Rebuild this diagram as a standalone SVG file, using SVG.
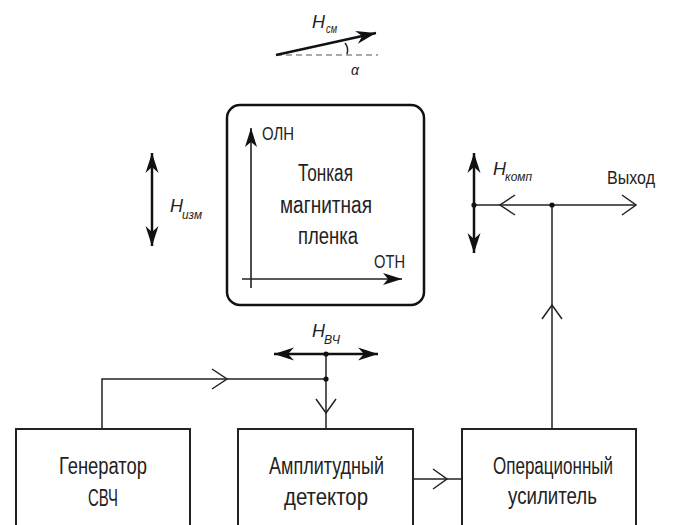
<svg xmlns="http://www.w3.org/2000/svg" width="673" height="525" viewBox="0 0 673 525">
<defs>
<style>
text{font-family:"Liberation Sans","DejaVu Sans",sans-serif;fill:#222}
.t{font-size:23.5px}
.l{font-size:19px}
.h{font-size:19px;font-style:italic}
.s{font-size:12.5px;font-style:italic}
.box{fill:#fff;stroke:#222;stroke-width:2}
.ln{fill:none;stroke:#222;stroke-width:1.5}
.th{fill:none;stroke:#111;stroke-width:2.5}
.ax{fill:none;stroke:#222;stroke-width:1.6}
.dot{fill:#111}
</style>
<marker id="fa" viewBox="-21 -8 22 16" refX="0" refY="0" markerWidth="22" markerHeight="16" markerUnits="userSpaceOnUse" orient="auto-start-reverse" overflow="visible">
<path d="M0,0 L-20,-6.5 L-14,0 L-20,6.5 Z" fill="#111"/>
</marker>
<marker id="fb" viewBox="-21 -8 22 16" refX="0" refY="0" markerWidth="22" markerHeight="16" markerUnits="userSpaceOnUse" orient="auto-start-reverse" overflow="visible">
<path d="M0,0 L-19,-6 L-14,0 L-19,6 Z" fill="#111"/>
</marker>
</defs>
<rect width="673" height="525" fill="#fff"/>

<g id="bias-field">
<line x1="276" y1="55" x2="378" y2="55" stroke="#555" stroke-width="1.2" stroke-dasharray="6,4"/>
<line x1="276" y1="55" x2="376" y2="33" class="th" marker-end="url(#fa)"/>
<path d="M345,43 Q349,48 347,54" class="ln" stroke-width="1.2"/>
<text class="h" x="312" y="28" textLength="13" lengthAdjust="spacingAndGlyphs">H</text>
<text class="s" x="326" y="33" textLength="11" lengthAdjust="spacingAndGlyphs">см</text>
<text x="351" y="75" font-size="14" font-style="italic">α</text>
</g>

<g id="film">
<rect x="227" y="105" width="197" height="200" rx="13" fill="#fff" stroke="#111" stroke-width="2.5"/>
<line x1="251" y1="288" x2="251" y2="128" class="ax" marker-end="url(#fb)"/>
<line x1="242" y1="279" x2="402" y2="279" class="ax" marker-end="url(#fb)"/>
<text class="l" x="262" y="140" textLength="32" lengthAdjust="spacingAndGlyphs">ОЛН</text>
<text class="l" x="374" y="268" textLength="31" lengthAdjust="spacingAndGlyphs">ОТН</text>
<text class="t" x="298" y="181" textLength="55" lengthAdjust="spacingAndGlyphs">Тонкая</text>
<text class="t" x="280" y="213" textLength="92" lengthAdjust="spacingAndGlyphs">магнитная</text>
<text class="t" x="298" y="244" textLength="60" lengthAdjust="spacingAndGlyphs">пленка</text>
</g>

<g id="h-izm">
<line x1="152" y1="153" x2="152" y2="246" class="th" marker-start="url(#fa)" marker-end="url(#fa)"/>
<text class="h" x="170" y="212" textLength="13" lengthAdjust="spacingAndGlyphs">H</text>
<text class="s" x="182" y="219" textLength="20" lengthAdjust="spacingAndGlyphs">изм</text>
</g>

<g id="h-komp">
<line x1="474" y1="153" x2="474" y2="253" class="th" marker-start="url(#fa)" marker-end="url(#fa)"/>
<text class="h" x="493" y="175" textLength="13" lengthAdjust="spacingAndGlyphs">H</text>
<text class="s" x="505" y="181" textLength="27" lengthAdjust="spacingAndGlyphs">комп</text>
</g>

<g id="h-vch">
<line x1="274" y1="354" x2="378" y2="354" class="th" marker-start="url(#fa)" marker-end="url(#fa)"/>
<text class="h" x="312" y="337" textLength="13" lengthAdjust="spacingAndGlyphs">H</text>
<text class="s" x="324" y="344" textLength="16" lengthAdjust="spacingAndGlyphs">ВЧ</text>
</g>

<g id="output">
<text class="l" x="607" y="184" textLength="48" lengthAdjust="spacingAndGlyphs">Выход</text>
</g>

<g id="generator">
<rect x="16" y="429" width="174" height="110" class="box"/>
<text class="t" x="59" y="474" textLength="88" lengthAdjust="spacingAndGlyphs">Генератор</text>
<text class="t" x="88" y="506" textLength="30" lengthAdjust="spacingAndGlyphs">СВЧ</text>
</g>

<g id="detector">
<rect x="238" y="429" width="175" height="110" class="box"/>
<text class="t" x="269" y="474" textLength="115" lengthAdjust="spacingAndGlyphs">Амплитудный</text>
<text class="t" x="284" y="505" textLength="84" lengthAdjust="spacingAndGlyphs">детектор</text>
</g>

<g id="opamp">
<rect x="462" y="429" width="174" height="110" class="box"/>
<text class="t" x="493" y="474" textLength="120" lengthAdjust="spacingAndGlyphs">Операционный</text>
<text class="t" x="508" y="504" textLength="89" lengthAdjust="spacingAndGlyphs">усилитель</text>
</g>

<g id="connectors">
<path d="M102,429 V379 H326" class="ln"/>
<path d="M212,369 L227,379 L212,389" class="ln"/>
<path d="M326,354 V429" class="ln"/>
<path d="M316,399 L326,413 L336,399" class="ln"/>
<path d="M413,479 H462" class="ln"/>
<path d="M433,469 L447,479 L433,489" class="ln"/>
<path d="M552,429 V205" class="ln"/>
<path d="M542,319 L552,305 L562,319" class="ln"/>
<path d="M474,205 H636" class="ln"/>
<path d="M622,195 L636,205 L622,215" class="ln"/>
<path d="M515,195 L500,205 L515,215" class="ln"/>
<circle cx="326" cy="379" r="2.6" class="dot"/>
<circle cx="326" cy="354" r="2.6" class="dot"/>
<circle cx="474" cy="205" r="2.6" class="dot"/>
<circle cx="552" cy="205" r="2.6" class="dot"/>
</g>
</svg>
